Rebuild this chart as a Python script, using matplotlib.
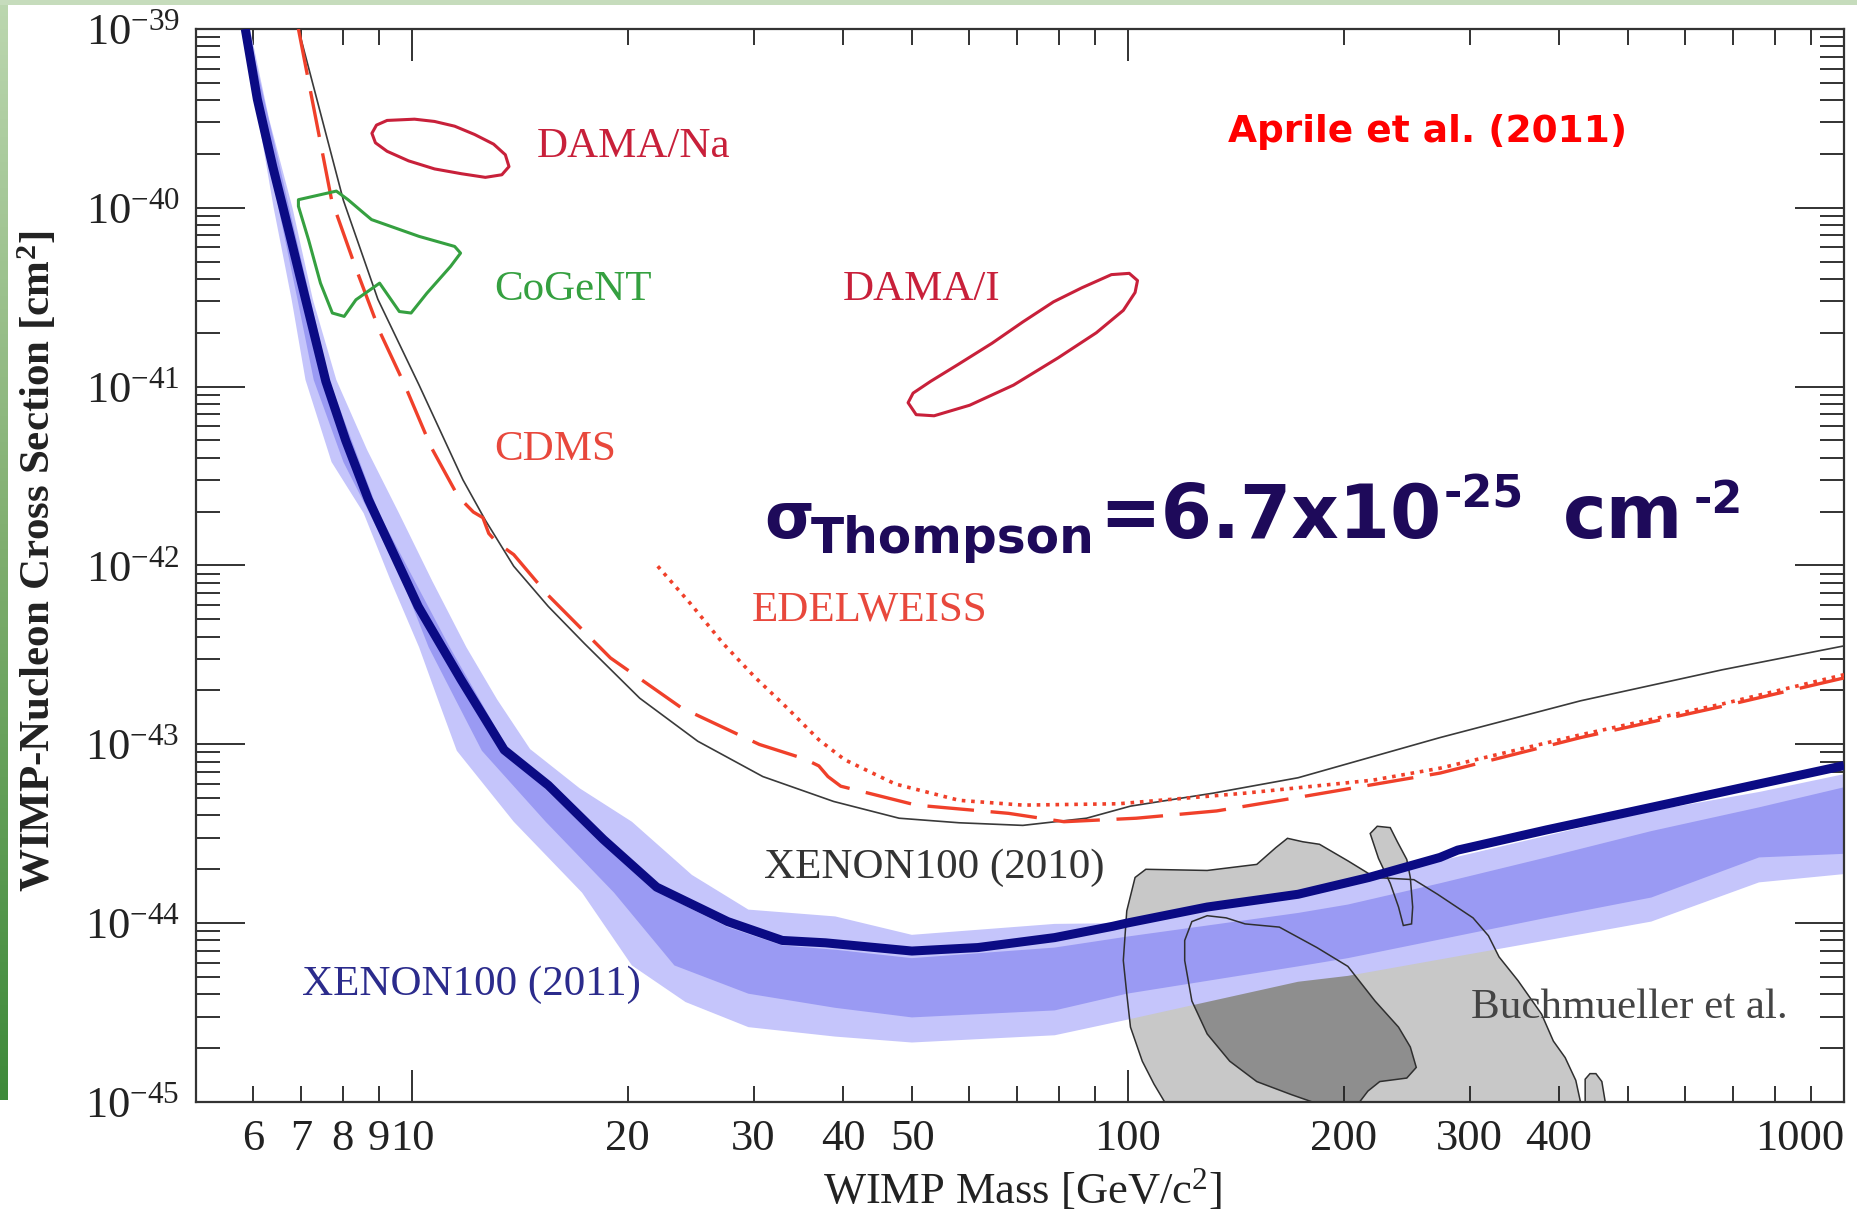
#!/usr/bin/env python3
"""
WIMP-nucleon cross section vs WIMP mass (XENON100 2011 result slide).
Writes out.png at 1857x1212.
"""
import numpy as np

import matplotlib
matplotlib.use("Agg")
import matplotlib.pyplot as plt
from matplotlib.colors import LinearSegmentedColormap
from matplotlib.patches import Rectangle
from matplotlib.ticker import LogLocator, NullFormatter

plt.rcParams["font.family"] = ["Liberation Serif", "DejaVu Serif"]
plt.rcParams["mathtext.fontset"] = "custom"
plt.rcParams["mathtext.rm"] = "Liberation Serif"
plt.rcParams["mathtext.it"] = "Liberation Serif:italic"
plt.rcParams["mathtext.bf"] = "Liberation Serif:bold"

# ---- values: mass [GeV/c^2], cross section [cm^2] ----
XE11_MASS = [5.85, 6.08, 6.39, 6.74, 7.10, 7.58, 8.08, 8.69, 10.2, 11.7, 13.45,
             15.5, 18.5, 21.96, 27.6, 32.9, 37.8, 49.9, 61.7, 79.0, 95.2, 99.6,
             129, 172.8, 217, 272.7, 288.7, 384, 538, 761, 1000]
XE11_SIGMA = [1.0e-39, 4.06e-40, 1.70e-40, 7.23e-41, 3.09e-41, 1.07e-41, 5.0e-42,
              2.34e-42, 5.9e-43, 2.31e-43, 9.3e-44, 5.9e-44, 2.94e-44, 1.59e-44,
              1.02e-44, 8.0e-45, 7.76e-45, 6.98e-45, 7.3e-45, 8.3e-45, 9.6e-45,
              1.0e-44, 1.23e-44, 1.45e-44, 1.80e-44, 2.33e-44, 2.56e-44, 3.32e-44,
              4.44e-44, 6.0e-44, 7.6e-44]

# expected sensitivity bands (2 sigma light, 1 sigma medium)
BAND2_UP_MASS = [5.94, 6.31, 6.81, 7.27, 7.84, 8.66, 9.59, 10.67, 11.91, 13.15,
                 14.62, 17.15, 20.28, 24.6, 29.5, 39.0, 49.9, 79.0, 99.6, 129,
                 172.8, 272.7, 384, 538, 761, 1000]
BAND2_UP_SIGMA = [1.0e-39, 3.18e-40, 9.95e-41, 3.07e-41, 1.09e-41, 4.41e-42,
                  1.96e-42, 8.2e-43, 3.49e-43, 1.78e-43, 9.4e-44, 5.67e-44,
                  3.69e-44, 1.86e-44, 1.19e-44, 1.09e-44, 8.6e-45, 9.9e-45,
                  1.0e-44, 1.21e-44, 1.39e-44, 2.23e-44, 3.08e-44, 4.24e-44,
                  5.41e-44, 6.81e-44]
BAND2_LO_MASS = [5.77, 6.10, 6.41, 6.79, 7.10, 7.72, 8.56, 9.34, 10.23, 10.87,
                 11.55, 13.87, 17.28, 20.28, 24.1, 29.5, 39.0, 49.9, 79.0, 99.6,
                 172.8, 202.8, 384, 538, 761, 1000]
BAND2_LO_SIGMA = [1.0e-39, 3.18e-40, 9.95e-41, 3.07e-41, 1.09e-41, 3.79e-42,
                  1.96e-42, 8.2e-43, 3.49e-43, 1.78e-43, 9.2e-44, 3.69e-44,
                  1.48e-44, 5.8e-45, 3.62e-45, 2.62e-45, 2.32e-45, 2.15e-45,
                  2.36e-45, 2.88e-45, 4.70e-45, 5.07e-45, 8.0e-45, 1.02e-44,
                  1.69e-44, 1.88e-44]
BAND1_UP_MASS = [5.90, 6.74, 7.66, 8.99, 11.29, 13.55, 15.5, 18.5, 21.96, 27.6,
                 32.9, 39.0, 49.9, 79.0, 99.6, 172.8, 202.8, 272.7, 384, 538,
                 761, 1000]
BAND1_UP_SIGMA = [1.0e-39, 9.95e-41, 1.09e-41, 1.96e-42, 3.49e-43, 9.7e-44,
                  5.41e-44, 2.76e-44, 1.50e-44, 9.5e-45, 7.5e-45, 7.1e-45,
                  6.37e-45, 7.3e-45, 8.4e-45, 1.14e-44, 1.27e-44, 1.67e-44,
                  2.33e-44, 3.27e-44, 4.44e-44, 5.75e-44]
BAND1_LO_MASS = [5.83, 6.17, 6.51, 6.92, 7.29, 8.02, 8.72, 9.70, 10.55, 11.5,
                 12.52, 15.37, 19.15, 23.25, 29.5, 39.0, 49.9, 79.0, 99.6, 172.8,
                 202.8, 384, 538, 761, 1000]
BAND1_LO_SIGMA = [1.0e-39, 3.18e-40, 9.95e-41, 3.07e-41, 1.09e-41, 3.79e-42,
                  1.96e-42, 8.2e-43, 3.49e-43, 1.78e-43, 9.2e-44, 3.69e-44,
                  1.48e-44, 5.8e-45, 4.03e-45, 3.36e-45, 2.97e-45, 3.25e-45,
                  4.03e-45, 5.73e-45, 6.37e-45, 1.07e-44, 1.39e-44, 2.33e-44,
                  2.44e-44]

XE10_MASS = [6.94, 8.02, 8.96, 10.23, 11.78, 12.66, 13.87, 15.5, 17.41, 20.8,
             25.07, 30.9, 38.8, 47.9, 58.1, 71.3, 87.5, 100.8, 131.5, 172.8,
             272.7, 428.5, 676, 1000]
XE10_SIGMA = [1.0e-39, 1.10e-40, 3.08e-41, 1.02e-41, 3.01e-42, 1.79e-42, 9.9e-43,
              5.9e-43, 3.66e-43, 1.81e-43, 1.04e-43, 6.6e-44, 4.79e-44, 3.86e-44,
              3.64e-44, 3.52e-44, 3.86e-44, 4.51e-44, 5.33e-44, 6.5e-44, 1.09e-43,
              1.75e-43, 2.61e-43, 3.55e-43]

CDMS_MASS = [6.94, 7.72, 8.33, 9.03, 9.77, 10.63, 11.6, 12.18, 12.56, 12.80,
             13.15, 13.87, 15.5, 18.93, 23.78, 30.56, 35.3, 37.0, 38.1, 39.7,
             50.6, 68.1, 81.4, 102.7, 133, 175.5, 272.7, 428.5, 676, 1000]
CDMS_SIGMA = [1.0e-39, 1.11e-40, 4.70e-41, 2.0e-41, 1.02e-41, 4.6e-42, 2.43e-42,
              1.99e-42, 1.85e-42, 1.51e-42, 1.34e-42, 1.15e-42, 6.8e-43, 3.04e-43,
              1.60e-43, 9.98e-44, 8.3e-44, 7.57e-44, 6.6e-44, 5.83e-44, 4.57e-44,
              4.11e-44, 3.69e-44, 3.86e-44, 4.24e-44, 5.1e-44, 6.9e-44, 1.09e-43,
              1.63e-43, 2.35e-43]

EDEL_MASS = [22.04, 24.5, 27.2, 30.1, 33.4, 37.0, 40.2, 47.3, 58.1, 71.3, 97.0,
             145.7, 219.6, 272.7, 428.5, 676, 1000]
EDEL_SIGMA = [9.9e-43, 6.1e-43, 3.66e-43, 2.38e-43, 1.6e-43, 1.06e-43, 8.2e-44,
              6.0e-44, 4.86e-44, 4.57e-44, 4.65e-44, 5.33e-44, 6.3e-44, 7.35e-44,
              1.13e-43, 1.68e-43, 2.45e-43]

DAMA_NA_MASS = [8.79, 8.92, 9.23, 10.08, 10.75, 11.47, 12.23, 13.00, 13.50, 13.66,
                13.35, 12.66, 11.73, 10.75, 9.89, 9.23, 8.89]
DAMA_NA_SIGMA = [2.61e-40, 2.90e-40, 3.08e-40, 3.13e-40, 3.04e-40, 2.86e-40,
                 2.57e-40, 2.27e-40, 1.98e-40, 1.70e-40, 1.53e-40, 1.48e-40,
                 1.55e-40, 1.65e-40, 1.83e-40, 2.07e-40, 2.31e-40]

DAMA_I_MASS = [49.3, 50.6, 53.6, 60.1, 69.2, 79.9, 90.3, 98.5, 102.3, 103.1, 100.4,
               94.8, 86.2, 78.7, 71.3, 64.6, 57.9, 53.0, 50.1]
DAMA_I_SIGMA = [8.13e-42, 6.97e-42, 6.87e-42, 7.87e-42, 1.02e-41, 1.45e-41,
                2.0e-41, 2.67e-41, 3.36e-41, 3.92e-41, 4.30e-41, 4.23e-41,
                3.57e-41, 2.98e-41, 2.30e-41, 1.75e-41, 1.33e-41, 1.07e-41, 9.2e-42]

COGENT_MASS = [6.94, 7.84, 8.14, 8.56, 8.78, 10.23, 11.47, 11.69, 11.32, 10.49,
               9.97, 9.60, 9.01, 8.35, 8.04, 7.74, 7.45, 7.17, 6.94]
COGENT_SIGMA = [1.11e-40, 1.24e-40, 1.11e-40, 9.35e-41, 8.59e-41, 6.92e-41,
                6.08e-41, 5.58e-41, 4.70e-41, 3.33e-41, 2.58e-41, 2.63e-41,
                3.79e-41, 3.06e-41, 2.47e-41, 2.58e-41, 3.79e-41, 6.62e-41, 1.02e-40]

# Buchmueller et al. CMSSM regions
BUCH_OUT_MASS = [112.5, 108.7, 104.7, 100.8, 99.6, 98.5, 99.6, 102.3, 105.9, 129.0,
                 151.3, 160.8, 167.0, 175.5, 185.1, 202.8, 221.3, 250.8, 270.6,
                 303.3, 318.7, 329.8, 350.5, 378.1, 392.7, 407.9, 422.1, 428.5]
BUCH_OUT_SIGMA = [1.0e-45, 1.26e-45, 1.69e-45, 2.62e-45, 4.03e-45, 6.18e-45,
                  1.17e-44, 1.80e-44, 2.0e-44, 1.97e-44, 2.13e-44, 2.64e-44,
                  2.98e-44, 2.85e-44, 2.76e-44, 2.23e-44, 1.80e-44, 1.75e-44,
                  1.45e-44, 1.07e-44, 8.5e-45, 6.47e-45, 4.77e-45, 3.1e-45,
                  2.19e-45, 1.77e-45, 1.32e-45, 1.0e-45]
BUCH_IN_MASS = [120.0, 122.8, 129.0, 137.1, 145.7, 162.7, 183.6, 202.8, 221.3,
                238.7, 247.9, 252.7, 245.1, 224.7, 216.3, 210.6, 180.9, 169.0,
                151.3, 138.7, 129.0, 122.8, 120.0]
BUCH_IN_SIGMA = [8.0e-45, 1.02e-44, 1.10e-44, 1.07e-44, 9.9e-45, 9.5e-45, 7.3e-45,
                 5.73e-45, 3.67e-45, 2.62e-45, 2.03e-45, 1.56e-45, 1.36e-45,
                 1.30e-45, 1.15e-45, 1.0e-45, 1.0e-45, 1.10e-45, 1.30e-45,
                 1.69e-45, 2.40e-45, 3.67e-45, 6.18e-45]
BUCH_FINGER_MASS = [217.9, 222.9, 232.4, 237.8, 245.1, 247.9, 249.8, 248.9, 242.4,
                    238.7, 232.4, 223.8]
BUCH_FINGER_SIGMA = [3.17e-44, 3.48e-44, 3.42e-44, 2.85e-44, 2.27e-44, 1.80e-44,
                     1.23e-44, 9.9e-45, 9.7e-45, 1.23e-44, 1.67e-44, 2.30e-44]
BUCH_BUMP_MASS = [435, 435, 441.8, 450.3, 459, 464]
BUCH_BUMP_SIGMA = [1.0e-45, 1.34e-45, 1.44e-45, 1.44e-45, 1.30e-45, 1.0e-45]

# ticks
X_MAJOR = [10, 100, 1000]
X_MAJOR_LABELS = ["10", "100", "1000"]
X_MINOR = [6, 7, 8, 9, 20, 30, 40, 50, 60, 70, 80, 90,
           200, 300, 400, 500, 600, 700, 800, 900]
X_MINOR_LABELS = ["6", "7", "8", "9", "20", "30", "40", "50", "", "", "", "",
                  "200", "300", "400", "", "", "", "", ""]
Y_MAJOR = [1e-45, 1e-44, 1e-43, 1e-42, 1e-41, 1e-40, 1e-39]
Y_LABELS = [r"$10^{-45}$", r"$10^{-44}$", r"$10^{-43}$", r"$10^{-42}$",
            r"$10^{-41}$", r"$10^{-40}$", r"$10^{-39}$"]

# colours
NAVY = "#0b0b84"
BAND2 = "#c5c5fb"
BAND1 = "#9a9af3"
CRIMSON = "#c8203a"
GREEN = "#35a040"
ORANGE_RED = "#f0402a"
GRAY_LIGHT = "#c8c8c8"
GRAY_DARK = "#8e8e8e"
OUTLINE = "#2f2f2f"
INK = "#222222"


def polygon(up_x, up_y, lo_x, lo_y):
    xs = list(up_x) + list(lo_x)[::-1]
    ys = list(up_y) + list(lo_y)[::-1]
    return xs, ys


def main():
    fig = plt.figure(figsize=(18.57, 12.12), dpi=100)
    fig.patch.set_facecolor("white")

    # slide frame: thin green strip on top and a gradient bar on the left
    fig.patches.append(Rectangle((0, 1 - 5 / 1212), 1, 5 / 1212,
                                 transform=fig.transFigure, facecolor="#c6dcbc",
                                 edgecolor="none", zorder=0))
    bar = fig.add_axes([0, 0.0924, 8 / 1857, 0.9076])
    frame_cmap = LinearSegmentedColormap.from_list(
        "frame", ["#bcd7b0", "#7fae6f", "#3e8a3a"])
    bar.imshow(np.linspace(0, 1, 256)[:, None], aspect="auto", cmap=frame_cmap)
    bar.axis("off")

    ax = fig.add_axes([0.1058, 0.0908, 0.8872, 0.8853])
    ax.set_xscale("log")
    ax.set_yscale("log")

    # Buchmueller regions (fills under the bands, outlines over them)
    gray_shapes = [(BUCH_OUT_MASS, BUCH_OUT_SIGMA, GRAY_LIGHT),
                   (BUCH_FINGER_MASS, BUCH_FINGER_SIGMA, GRAY_LIGHT),
                   (BUCH_BUMP_MASS, BUCH_BUMP_SIGMA, GRAY_LIGHT),
                   (BUCH_IN_MASS, BUCH_IN_SIGMA, GRAY_DARK)]
    for xs, ys, col in gray_shapes:
        ax.fill(xs, ys, facecolor=col, edgecolor="none", zorder=1)

    # expected sensitivity bands
    bx, by = polygon(BAND2_UP_MASS, BAND2_UP_SIGMA, BAND2_LO_MASS, BAND2_LO_SIGMA)
    ax.fill(bx, by, facecolor=BAND2, edgecolor="none", zorder=2)
    bx, by = polygon(BAND1_UP_MASS, BAND1_UP_SIGMA, BAND1_LO_MASS, BAND1_LO_SIGMA)
    ax.fill(bx, by, facecolor=BAND1, edgecolor="none", zorder=2.1)

    for xs, ys, _ in gray_shapes:
        ax.fill(xs, ys, fill=False, edgecolor=OUTLINE, linewidth=1.1, zorder=3)

    # other experiments
    ax.plot(XE10_MASS, XE10_SIGMA, color="#3a3a3a", linewidth=1.2, zorder=4)
    ax.plot(CDMS_MASS, CDMS_SIGMA, color=ORANGE_RED, linewidth=2.4,
            dashes=(14, 5), zorder=4)
    ax.plot(EDEL_MASS, EDEL_SIGMA, color=ORANGE_RED, linewidth=2.6,
            linestyle=(0, (1.0, 1.6)), zorder=4)
    ax.fill(DAMA_NA_MASS, DAMA_NA_SIGMA, fill=False, edgecolor=CRIMSON,
            linewidth=2.2, joinstyle="round", zorder=4)
    ax.fill(DAMA_I_MASS, DAMA_I_SIGMA, fill=False, edgecolor=CRIMSON,
            linewidth=2.2, joinstyle="round", zorder=4)
    ax.fill(COGENT_MASS, COGENT_SIGMA, fill=False, edgecolor=GREEN,
            linewidth=2.2, joinstyle="round", zorder=4)

    # XENON100 (2011) limit
    ax.plot(XE11_MASS, XE11_SIGMA, color=NAVY, linewidth=6.5,
            solid_capstyle="butt", solid_joinstyle="round", zorder=6)

    ax.set_xlim(5, 1000)
    ax.set_ylim(1e-45, 1e-39)

    # ticks: ROOT style, inward on all four sides
    ax.set_xticks(X_MAJOR, labels=X_MAJOR_LABELS)
    ax.set_xticks(X_MINOR, labels=X_MINOR_LABELS, minor=True)
    ax.set_yticks(Y_MAJOR, labels=Y_LABELS)
    ax.yaxis.set_minor_locator(LogLocator(base=10, subs=np.arange(2, 10), numticks=100))
    ax.yaxis.set_minor_formatter(NullFormatter())
    ax.tick_params(which="both", direction="in", top=True, right=True,
                   color=INK, labelcolor=INK, width=1.3)
    ax.tick_params(axis="x", which="major", length=23, pad=12, labelsize=32)
    ax.tick_params(axis="x", which="minor", length=11.5, pad=12, labelsize=32)
    ax.tick_params(axis="y", which="major", length=35, pad=12, labelsize=32)
    ax.tick_params(axis="y", which="minor", length=17.5)
    ax.xaxis.get_majorticklabels()[-1].set_horizontalalignment("right")
    for sp in ax.spines.values():
        sp.set_linewidth(1.6)
        sp.set_color("#333333")

    ax.set_xlabel(r"WIMP Mass [GeV/c$^{2}$]", fontsize=32, color=INK)
    ax.xaxis.set_label_coords(0.501, -0.060)
    ax.set_ylabel(r"WIMP-Nucleon Cross Section [cm$^{\mathbf{2}}$]", fontsize=31,
                  fontweight="bold", color=INK)
    ax.yaxis.set_label_coords(-0.0835, 0.504)

    # curve labels
    labels = [("DAMA/Na", 0.2064, 0.8810, CRIMSON),
              ("CoGeNT", 0.1805, 0.7474, GREEN),
              ("DAMA/I", 0.3925, 0.7474, CRIMSON),
              ("CDMS", 0.1805, 0.5983, "#e8483c"),
              ("EDELWEISS", 0.3372, 0.4483, "#e8483c"),
              ("XENON100 (2010)", 0.3444, 0.2088, "#333333"),
              ("XENON100 (2011)", 0.0640, 0.0993, "#2b2b8c"),
              ("Buchmueller et al.", 0.7735, 0.0783, "#444444")]
    for txt, x, y, col in labels:
        ax.text(x, y, txt, transform=ax.transAxes, fontsize=31, color=col,
                ha="left", va="baseline", zorder=10)

    # slide annotations
    sans = ["DejaVu Sans"]
    ax.text(0.6261, 0.8950, "Aprile et al. (2011)", transform=ax.transAxes,
            family=sans, fontweight="bold", fontsize=27, color="#ff0000",
            ha="left", va="baseline", zorder=10)
    thompson = [("\u03c3", 0.3445, 0.5256, 46),
                ("Thompson", 0.3730, 0.5117, 35),
                ("=6.7x10", 0.5478, 0.5256, 53),
                ("-25", 0.7570, 0.5536, 32),
                ("cm", 0.8294, 0.5256, 53),
                ("-2", 0.9085, 0.5489, 32)]
    for txt, x, y, size in thompson:
        ax.text(x, y, txt, transform=ax.transAxes, family=sans,
                fontweight="bold", fontsize=size, color="#1e0a5a",
                ha="left", va="baseline", zorder=10)

    fig.savefig("out.png", dpi=100)


if __name__ == "__main__":
    main()
